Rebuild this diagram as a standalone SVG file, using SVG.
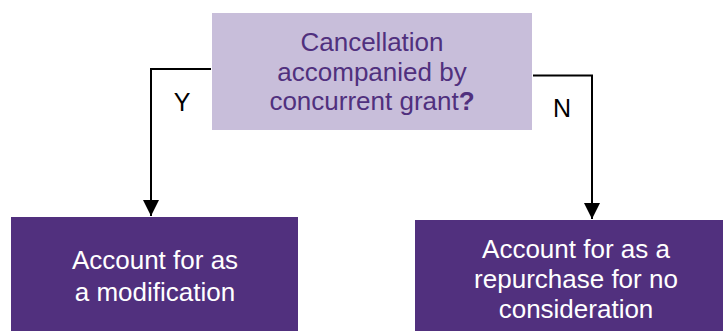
<svg xmlns="http://www.w3.org/2000/svg" width="723" height="331" viewBox="0 0 723 331">
<style>
.t{font-family:"Liberation Sans",Arial,sans-serif;text-anchor:middle}
.q{fill:#50307E;font-size:26px}
.w{fill:#FFFFFF;font-size:26px}
.lb{fill:#000000;font-size:25px}
.c{fill:none;stroke:#000000;stroke-width:2}
</style>
<defs>
<marker id="arr" viewBox="0 0 16 16" refX="16" refY="8" markerWidth="16" markerHeight="16" markerUnits="userSpaceOnUse" orient="auto">
<path d="M0,0 L16,8 L0,16 Z" fill="#000000"/>
</marker>
</defs>
<g id="connectors">
<polyline class="c" points="211,69 151,69 151,216" marker-end="url(#arr)"/>
<polyline class="c" points="533,75.5 592,75.5 592,219" marker-end="url(#arr)"/>
<text class="t lb" x="182" y="111">Y</text>
<text class="t lb" x="562" y="117">N</text>
</g>
<g id="decision">
<rect x="212" y="13" width="320" height="117" fill="#C8BEDA"/>
<text class="t q" x="372" y="51">Cancellation</text>
<text class="t q" x="372" y="80.5">accompanied by</text>
<text class="t q" x="372" y="110">concurrent grant<tspan font-weight="bold">?</tspan></text>
</g>
<g id="modification">
<rect x="11" y="217" width="287" height="114" fill="#51307E"/>
<text class="t w" x="155" y="269">Account for as</text>
<text class="t w" x="155" y="301">a modification</text>
</g>
<g id="repurchase">
<rect x="415" y="220" width="308" height="111" fill="#51307E"/>
<text class="t w" x="576" y="258">Account for as a</text>
<text class="t w" x="576" y="288">repurchase for no</text>
<text class="t w" x="576" y="318">consideration</text>
</g>
</svg>
